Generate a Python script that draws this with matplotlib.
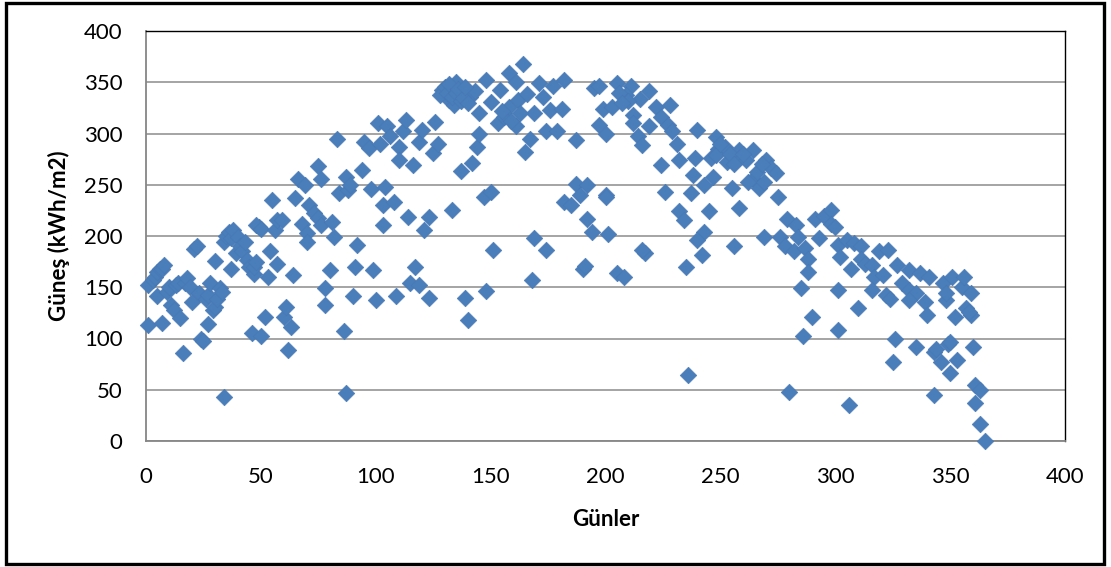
import matplotlib
matplotlib.use("Agg")
import matplotlib.pyplot as plt
from matplotlib.patches import Rectangle

# Daily solar energy readings: day of year and value (kWh/m2)
days_q1 = [1, 1, 3, 4, 5, 5, 6, 7, 7, 8, 9, 10, 11, 12, 13, 14, 15, 16, 17, 18,
           19, 20, 21, 22, 23, 24, 25, 26, 27, 27, 28, 29, 30, 30, 31, 32, 33, 34, 34, 35,
           36, 37, 37, 38, 39, 40, 41, 42, 43, 44, 45, 46, 47, 47, 48, 49, 50, 52, 48, 50,
           53, 54, 55, 56, 57, 57, 59, 60, 61, 62, 63, 64, 65, 66, 68, 69, 70, 70, 71, 73,
           75, 75, 76, 76, 78, 78, 80, 81, 82, 83, 84, 86, 87, 87, 88, 89, 90, 91, 92, 94,
           95, 97, 98, 99, 100, 101, 102, 103, 103]
vals_q1 = [113, 152, 157, 160, 141, 165, 168, 115, 168, 172, 145, 150, 133, 128, 152, 154, 120, 86, 154, 159,
           150, 136, 187, 190, 144, 100, 98, 139, 114, 142, 154, 128, 176, 131, 139, 149, 145, 43, 194, 200,
           204, 168, 198, 206, 183, 199, 190, 185, 194, 177, 170, 105, 163, 170, 175, 209, 102, 121, 211, 207,
           160, 185, 235, 206, 216, 173, 216, 121, 131, 89, 111, 162, 237, 256, 212, 250, 203, 194, 230, 222,
           268, 218, 256, 211, 149, 133, 167, 214, 199, 295, 242, 107, 258, 47, 245, 250, 141, 170, 191, 264,
           292, 286, 246, 167, 138, 310, 290, 211, 230]

days_q2 = [104, 105, 106, 108, 110, 110, 112, 113, 114, 115, 116, 117, 119, 119, 109, 120, 121, 123, 123, 125,
           126, 127, 129, 132, 133, 134, 135, 137, 139, 140, 141, 142, 143, 144, 145, 145, 147, 148, 148, 150,
           150, 151, 128, 130, 131, 132, 133, 135, 136, 137, 138, 139, 140,
           154, 158, 164, 161, 153, 156, 158, 162, 166, 161, 167, 165, 171, 173, 169, 174, 177, 182,
           176, 181, 179, 187, 195, 197, 199, 197, 200, 169, 174, 168, 187, 192, 182, 185, 189, 192,
           194, 200, 201, 190, 191, 155, 159, 163]
vals_q2 = [248, 307, 298, 233, 287, 274, 302, 313, 219, 154, 269, 170, 292, 152, 141, 303, 206, 219, 140, 281,
           311, 290, 342, 333, 225, 328, 350, 263, 140, 118, 336, 271, 341, 287, 320, 300, 238, 352, 146, 331,
           243, 186, 338, 345, 340, 348, 336, 340, 343, 332, 335, 345, 330,
           342, 359, 368, 350, 310, 316, 326, 333, 339, 307, 295, 282, 349, 336, 320, 302, 346, 352,
           323, 324, 302, 294, 344, 346, 324, 308, 300, 198, 186, 157, 251, 250, 233, 230, 240, 217,
           204, 240, 202, 168, 171, 322, 312, 320]

days_q3 = [205, 211, 209, 219, 215, 203, 212, 212, 214, 216, 222, 228, 224, 219, 227, 229, 231, 240, 224, 232,
           239, 238, 246, 248, 249, 247, 243, 226, 237, 232, 234, 245, 243, 240, 242, 217, 216, 235, 205, 208,
           236, 206, 210, 207, 200,
           252, 248, 253, 258, 258, 264, 261, 270, 272, 274, 264, 262, 267, 269, 275, 255, 258, 256, 279, 283,
           269, 276, 278, 282, 284, 287, 288, 288, 285, 290, 286, 280, 291, 295, 298, 298, 293, 301, 301,
           250, 254, 256, 260, 266, 268]
vals_q3 = [349, 346, 338, 341, 334, 326, 318, 310, 298, 289, 326, 328, 316, 307, 308, 302, 290, 303, 269, 274,
           276, 260, 276, 297, 285, 258, 250, 243, 242, 224, 216, 224, 204, 196, 181, 183, 186, 170, 164, 160,
           64, 340, 332, 330, 238,
           287, 279, 272, 284, 276, 284, 274, 274, 266, 261, 256, 253, 247, 253, 238, 247, 227, 190, 217, 211,
           199, 199, 190, 185, 199, 188, 178, 165, 149, 121, 102, 48, 217, 220, 225, 212, 198, 147, 108,
           290, 280, 270, 280, 262, 270]

days_q4 = [300, 301, 302, 305, 308, 307, 311, 311, 313, 319, 323, 316, 317, 321, 316, 322, 324, 310, 306, 327,
           332, 337, 341, 329, 332, 335, 332, 339, 340, 347, 348, 351, 326, 335, 325, 343, 344, 346, 349, 350,
           343, 348, 355, 359, 352, 359, 357, 350, 360, 353, 361, 363, 361, 363, 365, 356, 358]
vals_q4 = [209, 191, 180, 196, 193, 168, 190, 178, 173, 185, 186, 172, 160, 162, 147, 142, 139, 130, 35, 172,
           167, 164, 160, 154, 147, 144, 138, 136, 123, 154, 138, 160, 100, 92, 77, 87, 90, 77, 95, 66,
           45, 144, 150, 144, 121, 123, 130, 97, 92, 79, 55, 50, 37, 17, 0, 160, 126]

days = days_q1 + days_q2 + days_q3 + days_q4
values = vals_q1 + vals_q2 + vals_q3 + vals_q4

x_ticks = [0, 50, 100, 150, 200, 250, 300, 350, 400]
y_ticks = [0, 50, 100, 150, 200, 250, 300, 350, 400]

plt.rcParams['font.family'] = ['Lato', 'DejaVu Sans']

fig = plt.figure(figsize=(11.11, 5.67), dpi=100)
fig.patch.set_facecolor('white')

# chart border
fig.patches.append(Rectangle((6 / 1111, 3 / 567), 1098 / 1111, 561 / 567,
                             transform=fig.transFigure, fill=False,
                             edgecolor='black', linewidth=2.4))

ax = fig.add_axes([146 / 1111, 1 - 441 / 567, 919 / 1111, 410 / 567])
ax.set_xlim(0, 400)
ax.set_ylim(0, 400)
ax.set_xticks(x_ticks)
ax.set_yticks(y_ticks)
ax.tick_params(axis='both', length=0, labelsize=16)
ax.tick_params(axis='y', pad=17)
ax.tick_params(axis='x', pad=19)

ax.yaxis.grid(True, color='#8c8c8c', linewidth=1.1)
ax.set_axisbelow(True)

for side in ('top', 'right'):
    ax.spines[side].set_color('black')
    ax.spines[side].set_linewidth(1.0)
for side in ('left', 'bottom'):
    ax.spines[side].set_color('#868686')
    ax.spines[side].set_linewidth(1.3)

ax.scatter(days, values, marker='D', s=72, color='#4A7EBB',
           edgecolors='#4677b3', linewidths=0.4, zorder=3, clip_on=False)

ax.set_xlabel('Günler', fontsize=16, fontweight='bold')
ax.set_ylabel('Güneş (kWh/m2)', fontsize=16, fontweight='bold')
ax.xaxis.set_label_coords(0.5, -0.165)
ax.yaxis.set_label_coords(-0.083, 0.5)

fig.savefig('out.png', dpi=100, facecolor='white')
